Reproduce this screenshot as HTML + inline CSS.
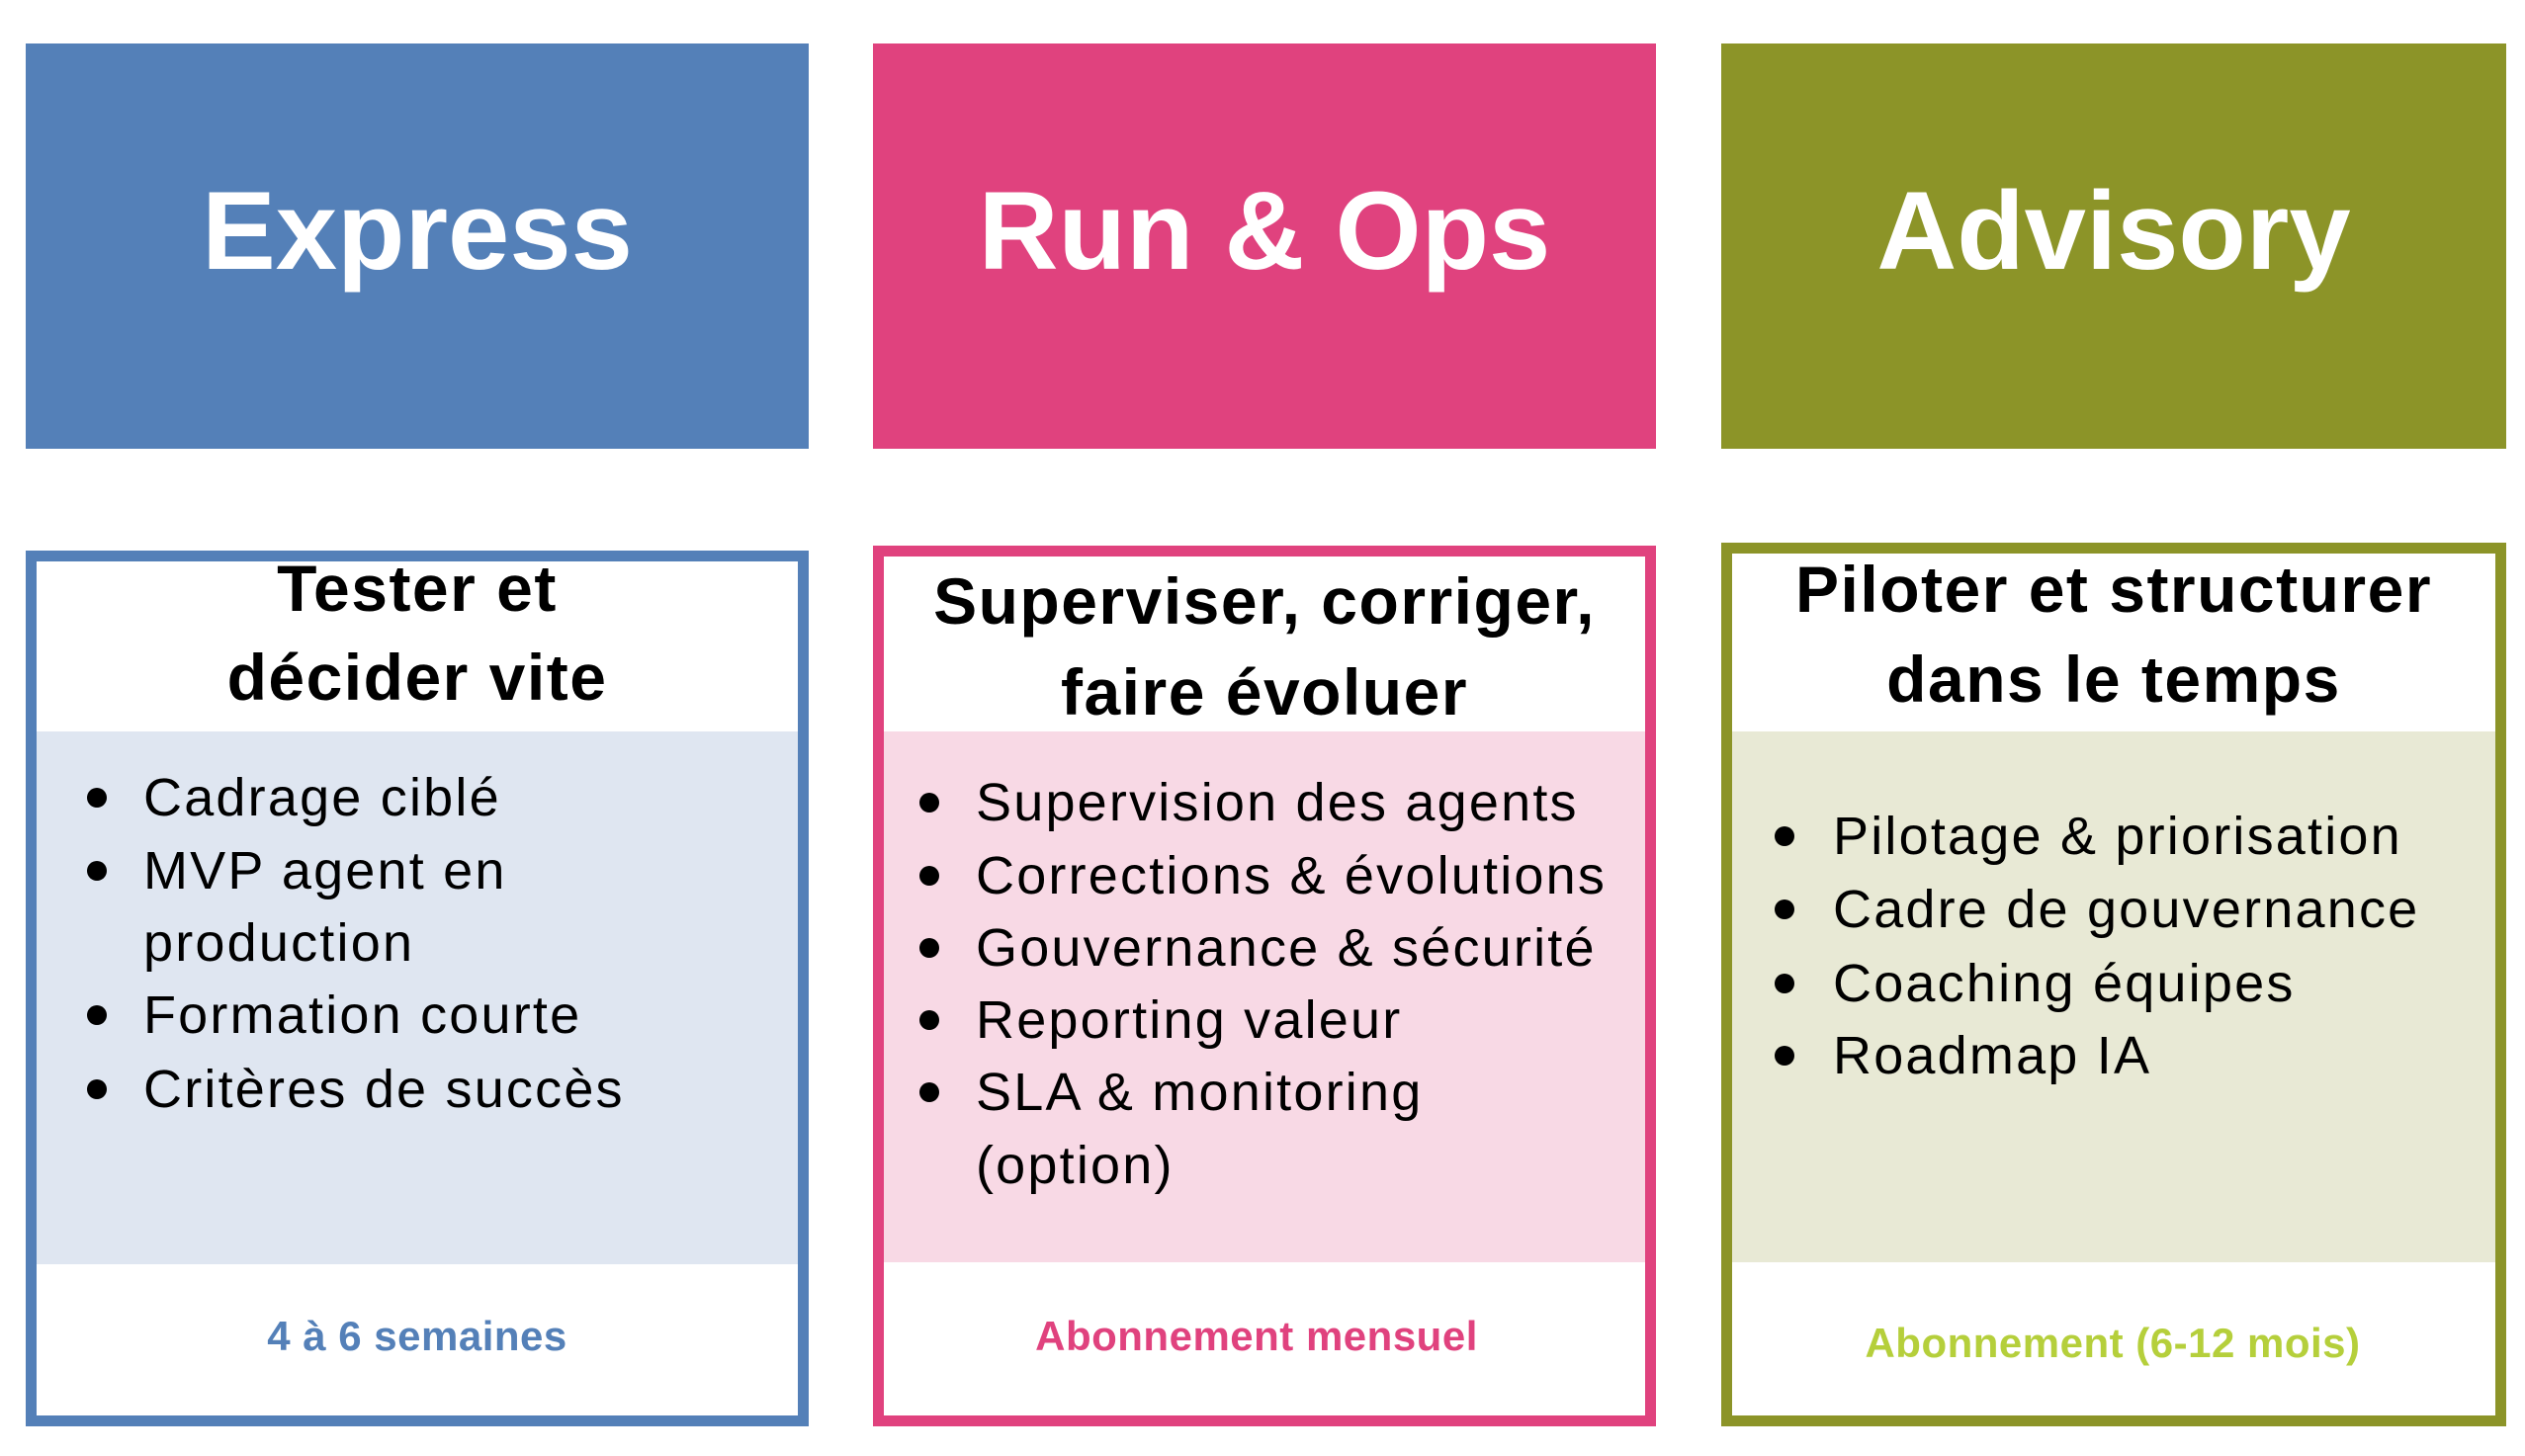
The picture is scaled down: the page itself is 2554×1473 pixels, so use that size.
<!DOCTYPE html>
<html><head><meta charset="utf-8"><style>
body{margin:0;width:2554px;height:1473px;background:#fff;position:relative;overflow:hidden;font-family:"Liberation Sans",sans-serif}
.a{position:absolute;box-sizing:border-box}
.top{color:#fff;font-weight:bold;font-size:112px;display:flex;align-items:center;justify-content:center;padding-bottom:32px}
.card{border:11px solid}
.h{position:absolute;left:0;right:0;text-align:center;font-weight:bold;font-size:66px;color:#000;letter-spacing:1.5px}
.li{position:absolute;font-size:54px;color:#000;white-space:nowrap;letter-spacing:2.2px;line-height:60px}
.dot{position:absolute;width:20px;height:20px;border-radius:50%;background:#000}
.f{position:absolute;text-align:center;font-weight:bold;font-size:42px;white-space:nowrap;transform:translateX(-50%);letter-spacing:0.5px}
</style></head><body>
<div class="a top" style="left:26px;top:44px;width:792px;height:410px;background:#5480b8">Express</div>
<div class="a top" style="left:883px;top:44px;width:792px;height:410px;background:#e0427e">Run &amp; Ops</div>
<div class="a top" style="left:1741px;top:44px;width:794px;height:410px;background:#8c9428">Advisory</div>

<div class="a card" style="left:26px;top:557px;width:792px;height:886px;border-color:#5480b8">
 <div class="a" style="left:0;right:0;top:172px;height:539px;background:#dfe6f1"></div>
 <div class="h" style="top:-11px">Tester et</div>
 <div class="h" style="top:79px">décider vite</div>
</div>
<div class="a card" style="left:883px;top:552px;width:792px;height:891px;border-color:#e0427e">
 <div class="a" style="left:0;right:0;top:177px;height:537px;background:#f8d9e5"></div>
 <div class="h" style="top:7px">Superviser, corriger,</div>
 <div class="h" style="top:99px">faire évoluer</div>
</div>
<div class="a card" style="left:1741px;top:549px;width:794px;height:894px;border-color:#8c9428">
 <div class="a" style="left:0;right:0;top:180px;height:537px;background:#e8e9d5"></div>
 <div class="h" style="top:-2px">Piloter et structurer</div>
 <div class="h" style="top:89px">dans le temps</div>
</div>

<div class="dot" style="left:88px;top:797px"></div><div class="li" style="left:145px;top:777px">Cadrage ciblé</div>
<div class="dot" style="left:88px;top:871px"></div><div class="li" style="left:145px;top:851px">MVP agent en</div>
<div class="li" style="left:145px;top:924px">production</div>
<div class="dot" style="left:88px;top:1017px"></div><div class="li" style="left:145px;top:997px">Formation courte</div>
<div class="dot" style="left:88px;top:1092px"></div><div class="li" style="left:145px;top:1072px">Critères de succès</div>

<div class="dot" style="left:930px;top:802px"></div><div class="li" style="left:987px;top:782px">Supervision des agents</div>
<div class="dot" style="left:930px;top:876px"></div><div class="li" style="left:987px;top:856px">Corrections &amp; évolutions</div>
<div class="dot" style="left:930px;top:949px"></div><div class="li" style="left:987px;top:929px">Gouvernance &amp; sécurité</div>
<div class="dot" style="left:930px;top:1022px"></div><div class="li" style="left:987px;top:1002px">Reporting valeur</div>
<div class="dot" style="left:930px;top:1095px"></div><div class="li" style="left:987px;top:1075px">SLA &amp; monitoring</div>
<div class="li" style="left:987px;top:1149px">(option)</div>

<div class="dot" style="left:1795px;top:836px"></div><div class="li" style="left:1854px;top:816px">Pilotage &amp; priorisation</div>
<div class="dot" style="left:1795px;top:910px"></div><div class="li" style="left:1854px;top:890px">Cadre de gouvernance</div>
<div class="dot" style="left:1795px;top:985px"></div><div class="li" style="left:1854px;top:965px">Coaching équipes</div>
<div class="dot" style="left:1795px;top:1058px"></div><div class="li" style="left:1854px;top:1038px">Roadmap IA</div>

<div class="f" style="left:422px;top:1328px;color:#5480b8">4 à 6 semaines</div>
<div class="f" style="left:1271px;top:1328px;color:#e0427e">Abonnement mensuel</div>
<div class="f" style="left:2137px;top:1335px;color:#b5cf3b">Abonnement (6-12 mois)</div>
</body></html>
